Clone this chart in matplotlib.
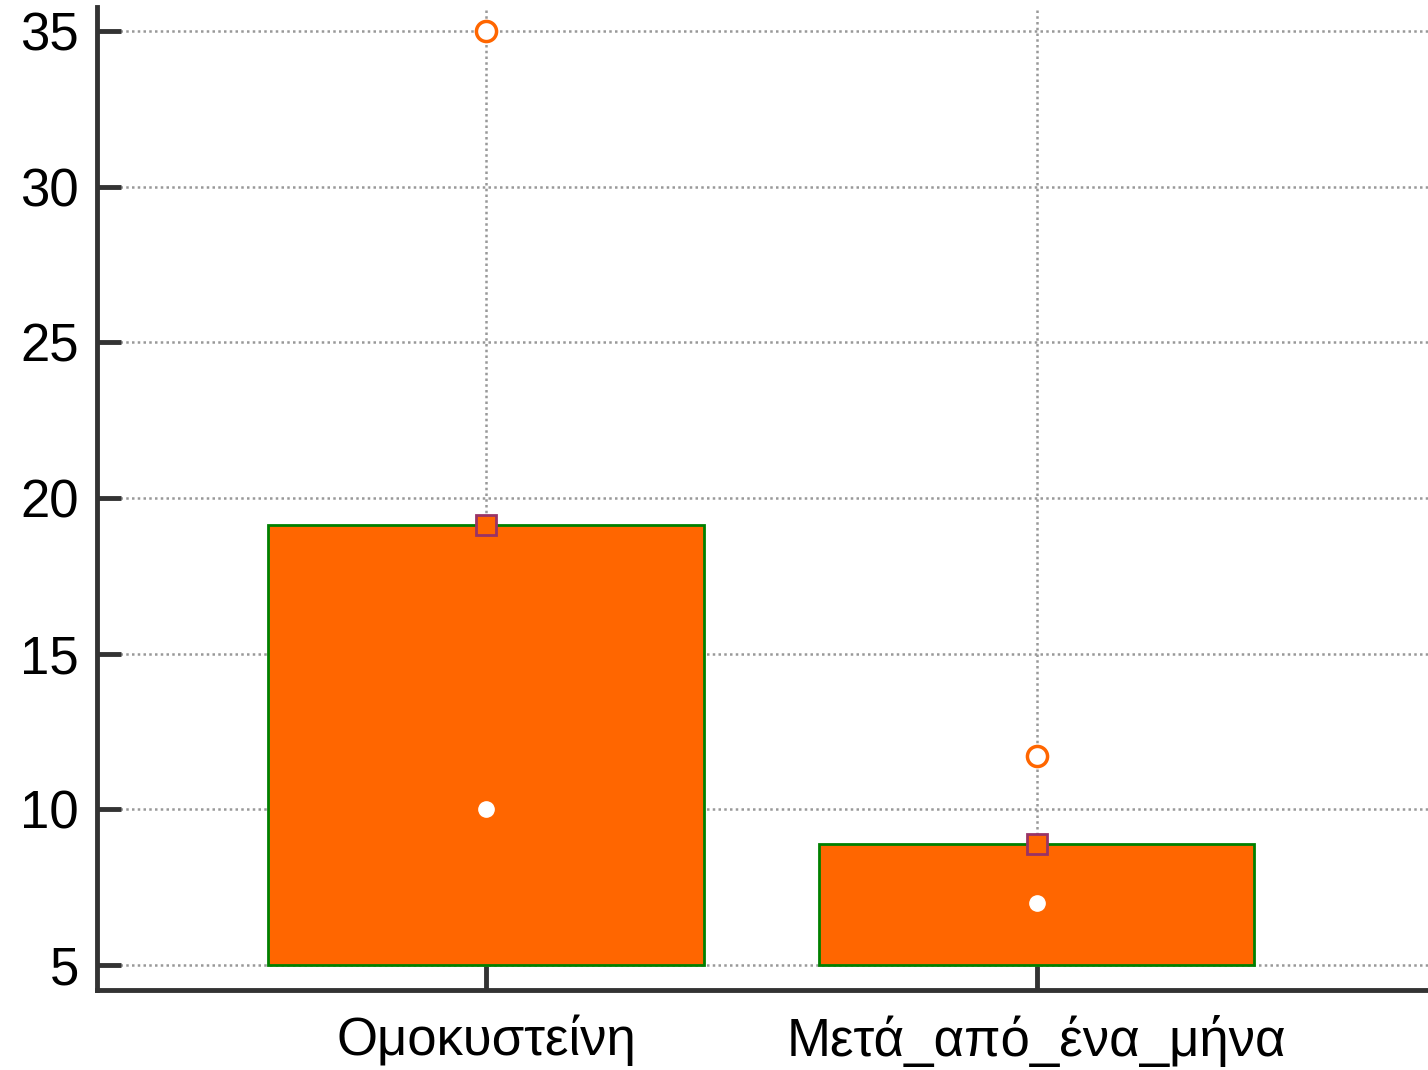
import matplotlib.pyplot as plt

plt.rcParams['font.family'] = ['Liberation Sans', 'DejaVu Sans']

# Values per group
categories = ['Ομοκυστείνη', 'Μετά_από_ένα_μήνα']
means = [19.12, 8.88]
maxima = [35.0, 11.72]
medians = [10.0, 7.0]
base = 5.0
yticks = [5, 10, 15, 20, 25, 30, 35]

x = [1, 2]
orange = '#ff6600'
spine_col = '#333333'

fig = plt.figure(figsize=(14.28, 10.7), dpi=100)
ax = fig.add_axes([0.068, 0.075, 0.932, 0.918])

heights = [m - base for m in means]
ax.bar(x, heights, bottom=base, width=0.79, color=orange, edgecolor='#008000',
       linewidth=2, zorder=2)

# mean markers on bar tops
ax.plot(x, means, linestyle='none', marker='s', markersize=14,
        markerfacecolor=orange, markeredgecolor='#993366', markeredgewidth=2, zorder=4)
# maximum values
ax.plot(x, maxima, linestyle='none', marker='o', markersize=14.5,
        markerfacecolor='white', markeredgecolor=orange, markeredgewidth=2.5, zorder=4)
# medians
ax.plot(x, medians, linestyle='none', marker='o', markersize=11,
        markerfacecolor='white', markeredgecolor='white', zorder=4)

ax.set_xlim(0.294, 2.71)
ax.set_ylim(4.2, 35.75)
ax.set_yticks(yticks)
ax.set_xticks(x)
ax.set_xticklabels(categories)

ax.grid(True, linestyle=(0, (1, 1.3)), color='#999999', linewidth=1.8, zorder=0)
ax.set_axisbelow(True)

for side in ['top', 'right']:
    ax.spines[side].set_visible(False)
for side in ['left', 'bottom']:
    ax.spines[side].set_color(spine_col)
    ax.spines[side].set_linewidth(3.5)

ax.tick_params(axis='both', direction='in', length=17, width=3.5, color=spine_col,
               labelsize=38, labelcolor='black')
ax.tick_params(axis='y', pad=13)
ax.tick_params(axis='x', pad=18)

fig.savefig('out.png', dpi=100)
